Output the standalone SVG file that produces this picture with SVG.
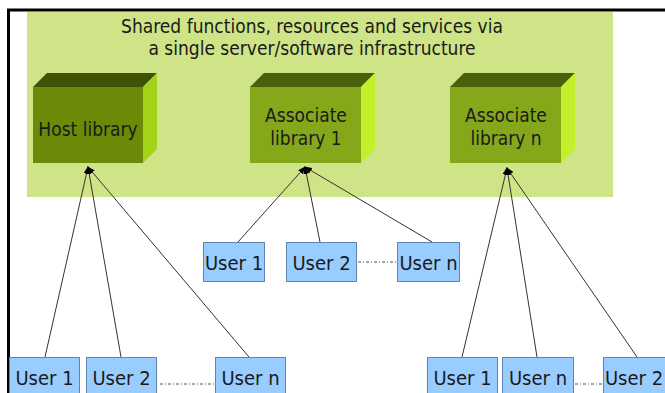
<svg xmlns="http://www.w3.org/2000/svg" width="665" height="393" viewBox="0 0 665 393">
<style>
  .t{font-family:"DejaVu Sans Condensed","DejaVu Sans",sans-serif;fill:#1a1a1a;text-anchor:middle}
  .title{font-size:19px}
  .lbl{font-size:19px}
  .ulbl{font-size:20px}
  .user{fill:#99ccff;stroke:#5e86ad;stroke-width:1}
  .conn{stroke:#333;stroke-width:1;fill:none}
  .dots{stroke:#555;stroke-width:1;stroke-dasharray:3 2 1 2;fill:none}
</style>
<defs>
  <marker id="ah" markerUnits="userSpaceOnUse" markerWidth="8" markerHeight="6" refX="7" refY="3" orient="auto">
    <path d="M0,0 L8,3 L0,6 z" fill="#000"/>
  </marker>
</defs>
<rect width="665" height="393" fill="#fff"/>
<g id="frame">
  <line x1="7" y1="10" x2="665" y2="10" stroke="#000" stroke-width="3"/>
  <line x1="8.5" y1="9" x2="8.5" y2="393" stroke="#000" stroke-width="3"/>
</g>
<g id="infrastructure">
  <rect x="27" y="12" width="586" height="185" fill="#cee486"/>
  <text class="t title" x="312" y="33">Shared functions, resources and services via</text>
  <text class="t title" x="312" y="55">a single server/software infrastructure</text>
</g>
<g id="host-library">
  <polygon points="33,87 47,73 157,73 143,87" fill="#3f5206"/>
  <polygon points="143,87 157,73 157,149 143,163" fill="#a3d318"/>
  <rect x="33" y="87" width="110" height="76" fill="#6b8a08"/>
  <text class="t lbl" x="88" y="136">Host library</text>
</g>
<g id="associate-library-1">
  <polygon points="250,87 264,73 375,73 361,87" fill="#4a600a"/>
  <polygon points="361,87 375,73 375,149 361,163" fill="#c2f02a"/>
  <rect x="250" y="87" width="111" height="76" fill="#84a81a"/>
  <text class="t lbl" x="306" y="122">Associate</text>
  <text class="t lbl" x="306" y="145">library 1</text>
</g>
<g id="associate-library-n">
  <polygon points="450,87 464,73 575,73 561,87" fill="#4a600a"/>
  <polygon points="561,87 575,73 575,149 561,163" fill="#c2f02a"/>
  <rect x="450" y="87" width="111" height="76" fill="#84a81a"/>
  <text class="t lbl" x="506" y="122">Associate</text>
  <text class="t lbl" x="506" y="145">library n</text>
</g>
<g id="connectors">
  <line class="conn" x1="45" y1="357" x2="88" y2="167" marker-end="url(#ah)"/>
  <line class="conn" x1="121" y1="357" x2="88" y2="167" marker-end="url(#ah)"/>
  <line class="conn" x1="249" y1="357" x2="88" y2="167" marker-end="url(#ah)"/>
  <line class="conn" x1="238" y1="242" x2="305" y2="167" marker-end="url(#ah)"/>
  <line class="conn" x1="320" y1="242" x2="305" y2="167" marker-end="url(#ah)"/>
  <line class="conn" x1="432" y1="242" x2="305" y2="167" marker-end="url(#ah)"/>
  <line class="conn" x1="462" y1="357" x2="507" y2="168" marker-end="url(#ah)"/>
  <line class="conn" x1="537" y1="357" x2="507" y2="168" marker-end="url(#ah)"/>
  <line class="conn" x1="637" y1="357" x2="507" y2="168" marker-end="url(#ah)"/>
  <line class="dots" x1="160" y1="384" x2="214" y2="384"/>
  <line class="dots" x1="358" y1="262" x2="396" y2="262"/>
  <line class="dots" x1="575" y1="384" x2="602" y2="384"/>
</g>
<g id="host-user-1"><rect class="user" x="9.5" y="357.5" width="70" height="40"/><text class="t ulbl" x="44.5" y="385">User 1</text></g>
<g id="host-user-2"><rect class="user" x="86.5" y="357.5" width="70" height="40"/><text class="t ulbl" x="121.5" y="385">User 2</text></g>
<g id="host-user-n"><rect class="user" x="215.5" y="357.5" width="70" height="40"/><text class="t ulbl" x="250.5" y="385">User n</text></g>
<g id="assoc1-user-1"><rect class="user" x="203.5" y="242.5" width="61" height="39"/><text class="t ulbl" x="234" y="270">User 1</text></g>
<g id="assoc1-user-2"><rect class="user" x="286.5" y="242.5" width="70" height="39"/><text class="t ulbl" x="321.5" y="270">User 2</text></g>
<g id="assoc1-user-n"><rect class="user" x="397.5" y="242.5" width="62" height="39"/><text class="t ulbl" x="428.5" y="270">User n</text></g>
<g id="assocn-user-1"><rect class="user" x="427.5" y="357.5" width="70" height="40"/><text class="t ulbl" x="462.5" y="385">User 1</text></g>
<g id="assocn-user-n"><rect class="user" x="502.5" y="357.5" width="71" height="40"/><text class="t ulbl" x="538" y="385">User n</text></g>
<g id="assocn-user-2"><rect class="user" x="603.5" y="357.5" width="70" height="40"/><text class="t ulbl" x="634" y="385">User 2</text></g>
</svg>
